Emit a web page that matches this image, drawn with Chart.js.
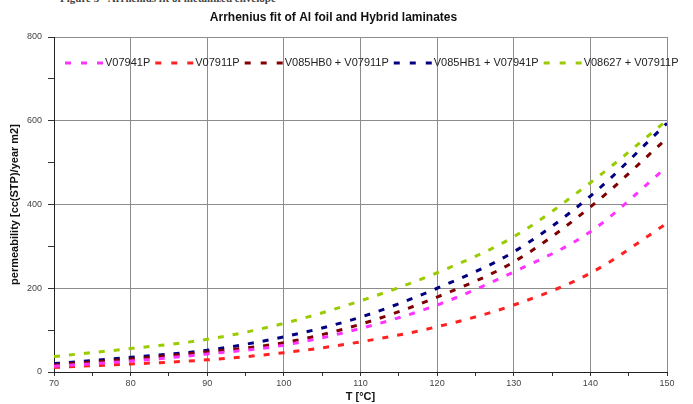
<!DOCTYPE html>
<html>
<head>
<meta charset="utf-8">
<script src="https://cdn.jsdelivr.net/npm/chart.js@4.4.1/dist/chart.umd.min.js"></script>
<style>
  body { margin: 0; background: #fff; }
  #wrap { position: relative; width: 693px; height: 404px; overflow: hidden; }
  #fig { position: absolute; top: -8px; left: 60px; font: bold 11px "Liberation Serif", serif; color: #444; white-space: nowrap; }
  canvas { position: absolute; left: 0; top: 0; }
</style>
</head>
<body>
<div id="wrap">
  <div id="fig">Figure 5 - Arrhenius fit of metallized envelope</div>
  <canvas id="chart" width="693" height="404"></canvas>
</div>
<script>
const temps = [70, 80, 90, 100, 110, 120, 130, 140, 150];
const v07941P = [14, 26, 43, 64, 104, 160, 239, 335, 490];
const v07911P = [11, 19, 29, 46, 72, 108, 160, 236, 355];
const hb0v07911P = [17, 31, 48, 70, 114, 179, 263, 394, 558];
const hb1v07941P = [20, 35, 52, 84, 131, 200, 287, 420, 594];
const v08627v07911P = [37, 56, 78, 116, 170, 237, 323, 452, 601];

const seriesNames = ["V07941P", "V07911P", "V085HB0 + V07911P", "V085HB1 + V07941P", "V08627 + V07911P"];
const seriesValues = [v07941P, v07911P, hb0v07911P, hb1v07941P, v08627v07911P];
const seriesColors = ["#ff33ff", "#ff2020", "#800000", "#000080", "#99cc00"];

const axisFont = "Liberation Sans, Arial, sans-serif";

// legend drawn inside the plot, Excel style (three dashes then label)
const dashLegend = {
  id: "dashLegend",
  afterDraw(chart) {
    const c = chart.ctx;
    let x = 65;
    const y = 63;
    c.save();
    c.font = "11px Liberation Sans, Arial, sans-serif";
    c.textBaseline = "middle";
    chart.data.datasets.forEach(ds => {
      c.strokeStyle = ds.borderColor;
      c.lineWidth = 3;
      for (let i = 0; i < 3; i++) {
        c.beginPath();
        c.moveTo(x + i * 16, y);
        c.lineTo(x + i * 16 + 6, y);
        c.stroke();
      }
      x += 40;
      c.fillStyle = "#222";
      c.fillText(ds.label, x, y);
      x += c.measureText(ds.label).width + 5;
    });
    c.restore();
  }
};

const ctx = document.getElementById("chart").getContext("2d");
const chart = new Chart(ctx, {
  type: "line",
  data: {
    datasets: seriesNames.map((name, i) => ({
      label: name,
      data: temps.map((t, j) => ({ x: t, y: seriesValues[i][j] })),
      borderColor: seriesColors[i],
      backgroundColor: seriesColors[i],
      borderWidth: 3,
      borderDash: [6, 9],
      pointRadius: 0,
      cubicInterpolationMode: "monotone",
      fill: false
    }))
  },
  options: {
    responsive: false,
    animation: false,
    layout: { padding: { left: 0, right: 26, top: 0, bottom: 0 } },
    plugins: {
      legend: { display: false },
      tooltip: { enabled: false },
      title: {
        display: true,
        text: "Arrhenius fit of Al foil and Hybrid laminates",
        color: "#111",
        font: { family: axisFont, size: 12, weight: "bold", lineHeight: 1.2 },
        padding: { top: 10, bottom: 12.6 }
      }
    },
    scales: {
      x: {
        type: "linear",
        min: 70,
        max: 150,
        afterFit(scale) { scale.height = 32; },
        ticks: {
          stepSize: 5,
          autoSkip: false,
          maxRotation: 0,
          padding: 2,
          color: "#444",
          font: { family: axisFont, size: 9 },
          callback: v => (v % 10 === 0 ? v : "")
        },
        grid: {
          color: c => (c.tick && c.tick.value % 10 === 0 ? "#8c8c8c" : "rgba(0,0,0,0)"),
          tickColor: "#333",
          tickLength: 4
        },
        border: { color: "#222", width: 1 },
        title: {
          display: true,
          text: "T [°C]",
          color: "#111",
          font: { family: axisFont, size: 11, weight: "bold" },
          padding: { top: 0, bottom: 0 }
        }
      },
      y: {
        min: 0,
        max: 800,
        afterFit(scale) { scale.width = 54; },
        ticks: {
          stepSize: 100,
          autoSkip: false,
          padding: 6,
          color: "#444",
          font: { family: axisFont, size: 9 },
          callback: v => (v % 200 === 0 ? v : "")
        },
        grid: {
          color: c => (c.tick && c.tick.value % 200 === 0 ? "#8c8c8c" : "rgba(0,0,0,0)"),
          tickColor: "#333",
          tickLength: 6
        },
        border: { color: "#222", width: 1 },
        title: {
          display: true,
          text: "permeability [cc(STP)/year m2]",
          color: "#111",
          font: { family: axisFont, size: 11, weight: "bold" },
          padding: { top: 8, bottom: 4 }
        }
      }
    }
  },
  plugins: [dashLegend]
});
</script>
</body>
</html>
